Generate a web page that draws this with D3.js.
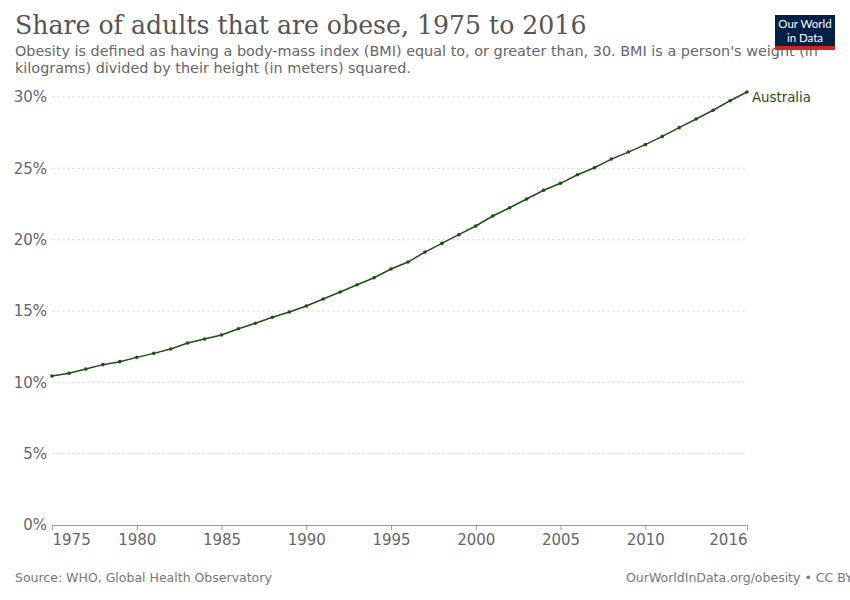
<!DOCTYPE html>
<html><head><meta charset="utf-8">
<script src="https://cdn.jsdelivr.net/npm/d3@7"></script>
<style>body{margin:0;background:#fff}svg{display:block}</style>
</head><body>
<svg id="c" width="850" height="600"></svg>
<script>
const years = d3.range(1975, 2017);
const australia = [10.44,10.63,10.93,11.24,11.45,11.75,12.03,12.34,12.76,13.04,13.32,13.76,14.14,14.56,14.93,15.35,15.84,16.33,16.84,17.33,17.94,18.43,19.13,19.74,20.35,20.96,21.66,22.24,22.85,23.46,23.95,24.55,25.04,25.65,26.14,26.66,27.24,27.85,28.46,29.07,29.74,30.35];
const xTicks = [1975,1980,1985,1990,1995,2000,2005,2010,2016];
const yTicks = [0,5,10,15,20,25,30];
const title = "Share of adults that are obese, 1975 to 2016";
const subtitle = ["Obesity is defined as having a body-mass index (BMI) equal to, or greater than, 30. BMI is a person's weight (in","kilograms) divided by their height (in meters) squared."];
const seriesName = "Australia";
const source = "Source: WHO, Global Health Observatory";
const credit = "OurWorldInData.org/obesity • CC BY";

const svg = d3.select("#c");
const sans = "DejaVu Sans, sans-serif";
const x = d3.scaleLinear().domain([1975,2016]).range([52,747]);
const y = d3.scaleLinear().domain([0,30]).range([525,97]);

svg.append("text").attr("x",15).attr("y",34).attr("font-family","DejaVu Serif, serif")
  .attr("font-size",25.2).attr("fill","#555").text(title);
svg.selectAll("text.sub").data(subtitle).join("text").attr("class","sub")
  .attr("x",15).attr("y",(d,i)=>56+i*17).attr("font-family",sans).attr("font-size",14.4)
  .attr("fill","#666").text(d=>d);

// logo
const logo = svg.append("g");
logo.append("rect").attr("x",775).attr("y",15).attr("width",60).attr("height",35).attr("fill","#002147");
logo.append("rect").attr("x",775).attr("y",46).attr("width",60).attr("height",4).attr("fill","#ce261e");
logo.append("text").attr("x",805).attr("y",28).attr("text-anchor","middle").attr("font-family","Lato, sans-serif").attr("font-size",11.5).attr("fill","#fff").text("Our World");
logo.append("text").attr("x",805).attr("y",42).attr("text-anchor","middle").attr("font-family","Lato, sans-serif").attr("font-size",11.5).attr("fill","#fff").text("in Data");

// gridlines
svg.append("g").selectAll("line").data(yTicks.filter(d=>d>0)).join("line")
  .attr("x1",52).attr("x2",747).attr("y1",d=>y(d)).attr("y2",d=>y(d))
  .attr("stroke","#ddd").attr("stroke-dasharray","3,2");
svg.append("g").selectAll("text").data(yTicks).join("text")
  .attr("x",47).attr("y",d=>y(d)).attr("dy","0.35em").attr("text-anchor","end")
  .attr("font-family",sans).attr("font-size",15).attr("fill","#666").text(d=>d+"%");

// x axis
const xa = svg.append("g").attr("transform","translate(0,525)")
  .call(d3.axisBottom(x).tickValues(xTicks).tickFormat(d3.format("d")).tickSize(5).tickPadding(4));
xa.select(".domain").attr("stroke","#999");
xa.selectAll(".tick line").attr("stroke","#999");
xa.selectAll(".tick text").attr("font-family",sans).attr("font-size",15).attr("fill","#666");
xa.selectAll(".tick text").filter(d=>d===1975).attr("text-anchor","start").attr("dx",0);
xa.selectAll(".tick text").filter(d=>d===2016).attr("text-anchor","end");

const data = years.map((yr,i)=>({yr,v:australia[i]}));
const col = "#1d4f16";
svg.append("path").datum(data).attr("fill","none").attr("stroke",col).attr("stroke-width",1.5)
  .attr("d",d3.line().x(d=>x(d.yr)).y(d=>y(d.v)));
svg.append("g").selectAll("circle").data(data).join("circle")
  .attr("cx",d=>x(d.yr)).attr("cy",d=>y(d.v)).attr("r",1.8).attr("fill",col);
svg.append("text").attr("x",752).attr("y",y(australia[australia.length-1])+10)
  .attr("font-family",sans).attr("font-size",13.3).attr("fill",col).text(seriesName);

svg.append("text").attr("x",15).attr("y",582).attr("font-family",sans).attr("font-size",12.5).attr("fill","#777").text(source);
svg.append("text").attr("x",626).attr("y",582).attr("font-family",sans).attr("font-size",12.5).attr("fill","#777").text(credit);
</script>
</body></html>
